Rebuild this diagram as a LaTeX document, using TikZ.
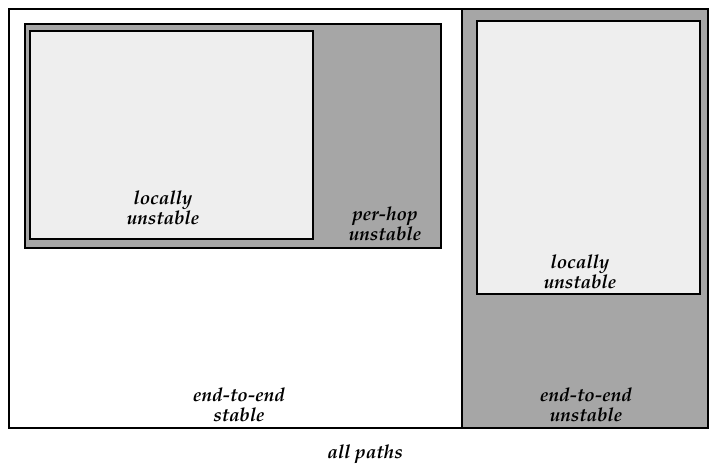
\documentclass[tikz,border=0pt]{standalone}
\usepackage[T1]{fontenc}
\begin{document}
\begin{tikzpicture}[x=1pt,y=-1pt,
  lbl/.style={font=\fontfamily{ppl}\fontsize{19}{20}\selectfont\bfseries\itshape, align=center, inner sep=0pt},
  box/.style={draw=black, line width=2pt},
  outer/.style={draw=black, line width=2.5pt}]
\useasboundingbox (0,0) rectangle (709,465);
\fill[white] (0,0) rectangle (709,465);
\fill[fill={rgb,255:red,166;green,166;blue,166}] (462,9) rectangle (708,428);
\draw[outer] (9,9) rectangle (708,428);
\draw[outer] (462,9) -- (462,428);
\draw[box, fill={rgb,255:red,166;green,166;blue,166}] (25,24) rectangle (441,248);
\draw[box, fill={rgb,255:red,238;green,238;blue,238}] (30,31) rectangle (313,239);
\draw[box, fill={rgb,255:red,238;green,238;blue,238}] (477,21) rectangle (700,294);
\node[lbl] (lu1) at (163,208) {locally\\unstable};
\node[lbl] (ph) at (385,224) {per-hop\\unstable};
\node[lbl] (lu2) at (580,272) {locally\\unstable};
\node[lbl] (es) at (239,405) {end-to-end\\stable};
\node[lbl] (eu) at (586,405) {end-to-end\\unstable};
\node[lbl] (ap) at (365,454) {all paths};
\end{tikzpicture}
\end{document}
